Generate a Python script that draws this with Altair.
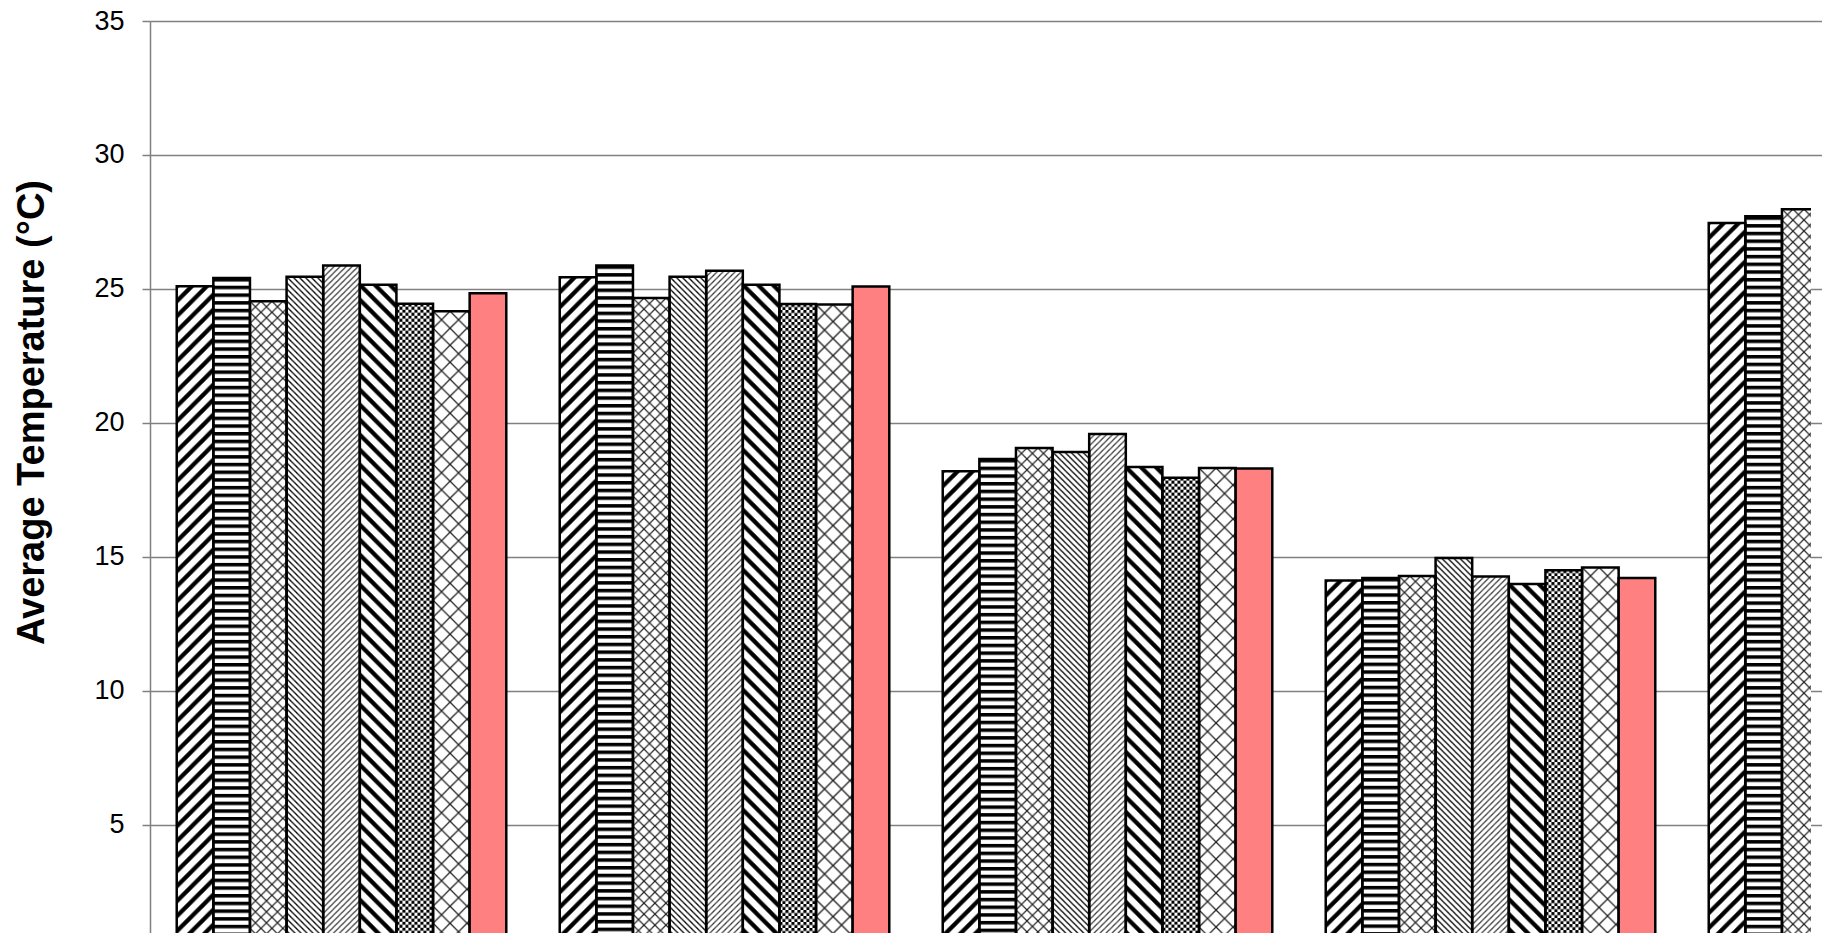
import base64
import altair as alt
import pandas as pd

# ---------------- data ----------------
groups = ["Group 1", "Group 2", "Group 3", "Group 4", "Group 5"]
series = ["S1", "S2", "S3", "S4", "S5", "S6", "S7", "S8", "S9"]

values_g1 = [25.10, 25.41, 24.54, 25.46, 25.88, 25.16, 24.45, 24.17, 24.84]
values_g2 = [25.44, 25.88, 24.66, 25.46, 25.68, 25.16, 24.44, 24.42, 25.09]
values_g3 = [18.20, 18.66, 19.07, 18.92, 19.59, 18.36, 17.96, 18.32, 18.30]
values_g4 = [14.12, 14.22, 14.29, 14.96, 14.27, 13.99, 14.51, 14.61, 14.22]
values_g5 = [27.46, 27.71, 27.98]  # only the first three bars are visible

y_ticks = [5, 10, 15, 20, 25, 30, 35]
y_title = "Average Temperature (°C)"

# ---------------- styles (fill patterns) ----------------
def pattern_url(w, h, content):
    svg = (
        '<svg xmlns="http://www.w3.org/2000/svg" width="100%" height="100%">'
        f'<defs><pattern id="p" patternUnits="userSpaceOnUse" width="{w}" height="{h}">'
        f'{content}</pattern></defs>'
        '<rect width="100%" height="100%" fill="white"/>'
        '<rect width="100%" height="100%" fill="url(#p)"/></svg>'
    )
    return "data:image/svg+xml;base64," + base64.b64encode(svg.encode("utf-8")).decode("ascii")


def up_diag(s, sw, color):
    k = 3
    return (f'<path d="M{-k},{k} L{k},{-k} M0,{s} L{s},0 M{s-k},{s+k} L{s+k},{s-k}" '
            f'stroke="{color}" stroke-width="{sw}" fill="none"/>')


def down_diag(s, sw, color):
    k = 3
    return (f'<path d="M{-k},{s-k} L{k},{s+k} M0,0 L{s},{s} M{s-k},{-k} L{s+k},{k}" '
            f'stroke="{color}" stroke-width="{sw}" fill="none"/>')


def diamond(s, sw, color):
    return (f'<path d="M0,0 L{s},{s} M{s},0 L0,{s}" stroke="{color}" '
            f'stroke-width="{sw}" fill="none"/>')


pattern_urls = {
    "S1": pattern_url(15, 15, up_diag(15, 4.2, "black")),
    "S2": pattern_url(8, 7.7, '<rect x="0" y="0" width="8" height="3.5" fill="black"/>'),
    "S3": pattern_url(11, 11, diamond(11, 1.2, "#222")),
    "S4": pattern_url(6, 6, down_diag(6, 1.3, "black")),
    "S5": pattern_url(6, 6, up_diag(6, 1.2, "#333")),
    "S6": pattern_url(15, 15, down_diag(15, 4.2, "black")),
    "S7": pattern_url(6, 6, '<rect x="0" y="0" width="3" height="3" fill="black"/>'
                            '<rect x="3" y="3" width="3" height="3" fill="black"/>'),
    "S8": pattern_url(17, 17, diamond(17, 1.3, "#222")),
}

# ---------------- table ----------------
rows = []
for g, vals in zip(groups, [values_g1, values_g2, values_g3, values_g4, values_g5]):
    for s, v in zip(series, vals):
        rows.append({"group": g, "series": s, "value": v})
df = pd.DataFrame(rows)
df["url"] = df["series"].map(pattern_urls).fillna("")

# ---------------- chart ----------------
STEP = 383
x_enc = alt.X("group:N", sort=groups, axis=None,
              scale=alt.Scale(domain=groups, range=[0, STEP * len(groups)],
                              paddingInner=0, paddingOuter=0))
xo_enc = alt.XOffset("series:N", sort=series,
                     scale=alt.Scale(domain=series, paddingInner=0, paddingOuter=0.73))
y_scale = alt.Scale(domain=[0.97, 35], nice=False, zero=False)

y_axis = alt.Axis(
    values=y_ticks,
    title=y_title,
    grid=True,
    gridColor="#808080",
    gridWidth=1.3,
    domainColor="#808080",
    domainWidth=1.5,
    tickColor="#808080",
    tickWidth=1.5,
    tickSize=8,
    labelFont="Liberation Sans",
    labelFontSize=27,
    labelColor="black",
    labelPadding=18,
    titleFont="Liberation Sans",
    titleFontSize=38,
    titleFontWeight="bold",
    titleColor="black",
    titleAngle=270,
    titleAlign="center",
    titleBaseline="alphabetic",
    titleX=-107,
    titleY=391,
)

images = alt.Chart(df).transform_filter(
    alt.datum.url != ""
).mark_image(aspect=False, clip=True).encode(
    x=x_enc,
    xOffset=xo_enc,
    y=alt.Y("value:Q", scale=y_scale, axis=y_axis),
    y2=alt.datum(0),
    url="url:N",
)

bars = alt.Chart(df).mark_bar(clip=True, stroke="black", strokeWidth=2.5).encode(
    x=x_enc,
    xOffset=xo_enc,
    y=alt.Y("value:Q", scale=y_scale, axis=y_axis),
    y2=alt.datum(0),
    fill=alt.condition(alt.datum.series == "S9", alt.value("#FF8080"), alt.value("transparent")),
)

chart = alt.layer(images, bars).properties(
    width=1661,
    height=912,
    autosize=alt.AutoSizeParams(type="none"),
    padding={"left": 150, "top": 21, "right": 11, "bottom": 0},
    background="white",
).configure_view(stroke=None)

chart.save("out.html", embed_options={"renderer": "svg", "actions": False})
